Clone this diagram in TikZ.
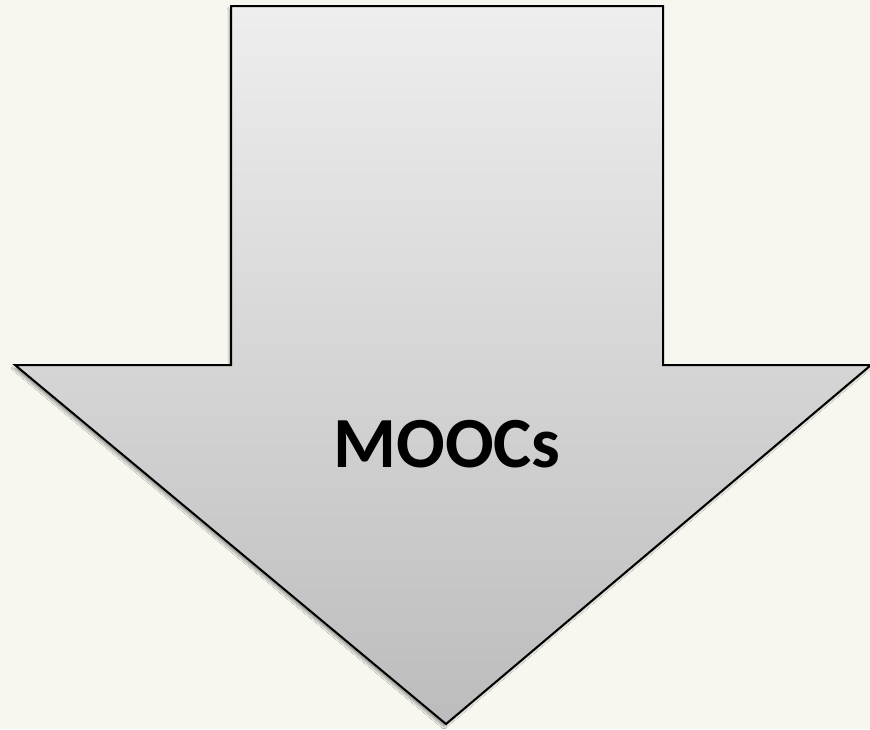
\documentclass[tikz,border=0pt]{standalone}
\usepackage{fontspec}
\setmainfont{Carlito}
\usetikzlibrary{shadows.blur}
\definecolor{pagebg}{RGB}{247,247,239}
\definecolor{arrowtop}{RGB}{238,238,238}
\definecolor{arrowbot}{RGB}{188,188,188}
\tikzset{
  downarrow/.style={draw=black, line width=2pt, line join=miter,
    top color=arrowtop, bottom color=arrowbot,
    blur shadow={shadow xshift=-2pt, shadow yshift=-3pt, shadow blur steps=6, shadow opacity=35}},
  label/.style={font=\bfseries\fontsize{72}{80}\selectfont, text=black}
}
\begin{document}
\begin{tikzpicture}[x=1pt,y=-1pt]
  % page
  \fill[pagebg] (0,0) rectangle (870,729);
  \useasboundingbox (0,0) rectangle (870,729);
  % block arrow pointing down
  \path[downarrow] (231,6) -- (663,6) -- (663,365) -- (871,365) -- (446,724)
    -- (15,365) -- (231,365) -- cycle;
  \node[label] (title) at (447,444) {MOOCs};
\end{tikzpicture}
\end{document}
